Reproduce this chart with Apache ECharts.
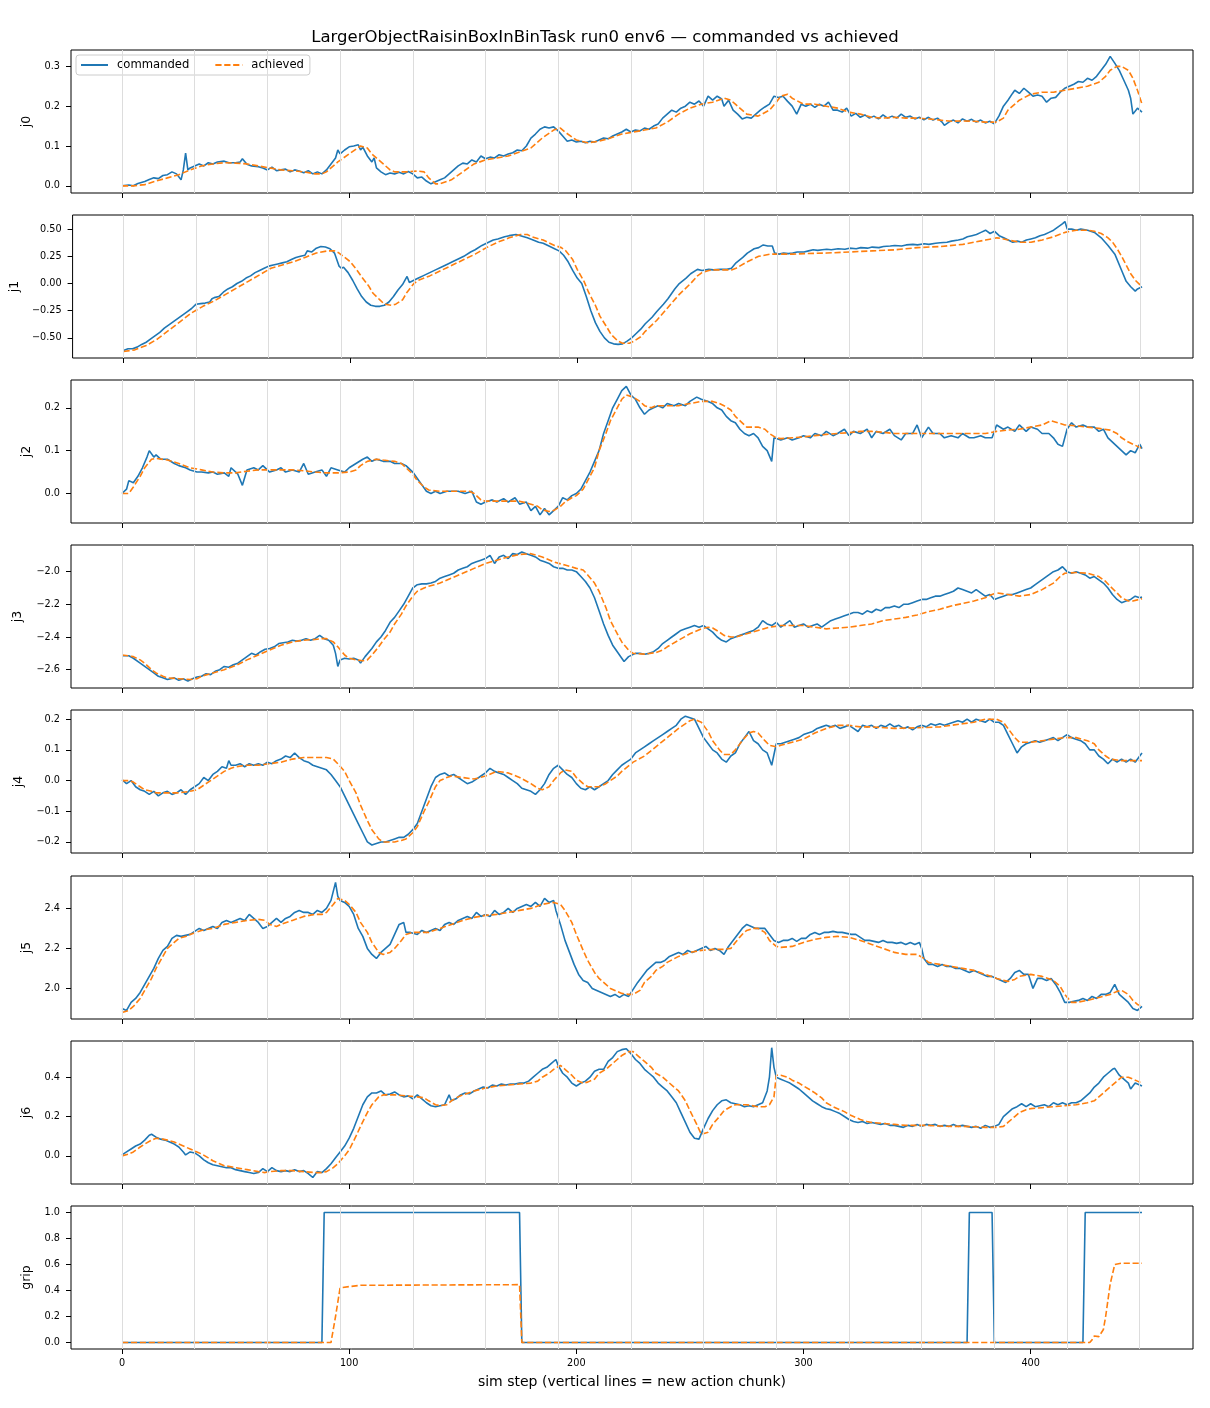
<!DOCTYPE html>
<html><head><meta charset="utf-8">
<script src="https://cdn.jsdelivr.net/npm/echarts@6/dist/echarts.min.js"></script>
<style>html,body{margin:0;padding:0;background:#fff}#c{width:1210px;height:1408px}</style>
</head><body><div id="c"></div><script>
const TITLE = 'LargerObjectRaisinBoxInBinTask run0 env6 \u2014 commanded vs achieved';
const X_LABEL = 'sim step (vertical lines = new action chunk)';
const X_TICKS = [0,100,200,300,400];
const CHUNK_STARTS = [0,32,64,96,128,160,192,224,256,288,320,352,384,416,448];
const PANEL_NAMES = ['j0','j1','j2','j3','j4','j5','j6','grip'];

const J0_TICKS = [0,0.1,0.2,0.3];
const J1_TICKS = [-0.5,-0.25,0,0.25,0.5];
const J2_TICKS = [0,0.1,0.2];
const J3_TICKS = [-2.6,-2.4,-2.2,-2.0];
const J4_TICKS = [-0.2,-0.1,0,0.1,0.2];
const J5_TICKS = [2.0,2.2,2.4];
const J6_TICKS = [0,0.2,0.4];
const GRIP_TICKS = [0,0.2,0.4,0.6,0.8,1.0];

const J0_CMD = [[0,0.0],[3,0.002],[5,0.0],[7,0.006],[10,0.011],[12,0.016],[14,0.02],[16,0.018],[18,0.026],[20,0.028],[22,0.035],[24,0.03],[26,0.015],[27,0.04],[28,0.082],[29,0.04],[30,0.045],[32,0.05],[34,0.055],[36,0.05],[38,0.058],[40,0.055],[42,0.06],[45,0.062],[47,0.058],[50,0.058],[52,0.06],[53,0.068],[55,0.054],[57,0.05],[60,0.048],[62,0.045],[64,0.04],[66,0.047],[68,0.038],[70,0.04],[72,0.042],[74,0.035],[76,0.04],[78,0.037],[80,0.033],[82,0.038],[84,0.03],[86,0.035],[88,0.03],[90,0.04],[92,0.055],[94,0.07],[95,0.09],[96,0.08],[98,0.09],[100,0.098],[102,0.1],[104,0.103],[105,0.09],[106,0.097],[108,0.075],[110,0.06],[111,0.07],[112,0.045],[114,0.035],[116,0.028],[118,0.032],[120,0.03],[122,0.034],[124,0.03],[126,0.036],[128,0.03],[130,0.02],[132,0.022],[134,0.012],[136,0.005],[138,0.01],[140,0.015],[142,0.02],[144,0.03],[146,0.04],[148,0.05],[150,0.057],[152,0.055],[154,0.065],[156,0.06],[158,0.075],[160,0.068],[162,0.072],[164,0.07],[166,0.078],[168,0.075],[170,0.08],[172,0.083],[174,0.09],[176,0.088],[178,0.1],[180,0.12],[182,0.13],[184,0.142],[186,0.148],[188,0.145],[190,0.148],[192,0.138],[194,0.125],[196,0.112],[198,0.115],[200,0.11],[202,0.112],[204,0.108],[206,0.112],[208,0.11],[210,0.115],[212,0.12],[214,0.118],[216,0.125],[218,0.13],[220,0.135],[222,0.142],[224,0.135],[226,0.14],[228,0.138],[230,0.145],[232,0.142],[234,0.15],[236,0.155],[238,0.17],[240,0.18],[242,0.19],[244,0.185],[246,0.195],[248,0.2],[250,0.21],[252,0.205],[254,0.213],[256,0.2],[258,0.225],[260,0.215],[262,0.225],[264,0.218],[265,0.2],[267,0.215],[269,0.19],[271,0.18],[273,0.168],[275,0.172],[277,0.17],[279,0.18],[281,0.19],[283,0.198],[285,0.205],[287,0.225],[289,0.222],[291,0.225],[293,0.212],[295,0.2],[297,0.18],[299,0.205],[301,0.2],[303,0.205],[305,0.197],[307,0.205],[309,0.2],[311,0.21],[313,0.19],[315,0.19],[317,0.185],[319,0.195],[321,0.175],[323,0.182],[325,0.172],[327,0.178],[329,0.17],[331,0.175],[333,0.168],[335,0.178],[337,0.17],[339,0.175],[341,0.17],[343,0.18],[345,0.172],[347,0.175],[349,0.168],[351,0.172],[353,0.166],[355,0.172],[357,0.165],[359,0.17],[361,0.16],[362,0.152],[364,0.16],[366,0.165],[368,0.158],[370,0.168],[372,0.162],[374,0.167],[376,0.16],[378,0.165],[380,0.158],[382,0.162],[384,0.156],[386,0.175],[388,0.2],[390,0.215],[392,0.232],[393,0.24],[395,0.232],[397,0.245],[399,0.235],[401,0.225],[403,0.228],[405,0.225],[407,0.21],[409,0.22],[411,0.222],[413,0.235],[415,0.245],[417,0.25],[419,0.255],[421,0.262],[423,0.26],[425,0.27],[427,0.265],[429,0.275],[431,0.29],[433,0.305],[435,0.325],[437,0.308],[439,0.29],[441,0.265],[443,0.24],[444,0.22],[445,0.18],[447,0.195],[449,0.185]];
const J0_ACH = [[0,0.0],[5,0.0],[10,0.003],[15,0.012],[20,0.02],[25,0.028],[30,0.04],[35,0.05],[40,0.055],[45,0.058],[50,0.057],[55,0.055],[60,0.05],[65,0.045],[70,0.04],[75,0.038],[80,0.035],[85,0.03],[88,0.03],[90,0.035],[95,0.06],[100,0.08],[105,0.1],[108,0.095],[110,0.08],[115,0.055],[118,0.04],[120,0.035],[125,0.035],[130,0.037],[133,0.035],[135,0.02],[138,0.005],[140,0.005],[145,0.015],[150,0.035],[155,0.055],[160,0.065],[165,0.07],[170,0.075],[175,0.085],[180,0.095],[185,0.12],[190,0.14],[193,0.145],[195,0.135],[200,0.115],[205,0.108],[210,0.112],[215,0.12],[220,0.13],[225,0.135],[230,0.14],[235,0.145],[240,0.16],[245,0.18],[250,0.195],[255,0.205],[260,0.21],[265,0.22],[268,0.215],[270,0.205],[275,0.18],[280,0.175],[285,0.19],[288,0.21],[290,0.225],[293,0.23],[295,0.22],[300,0.205],[305,0.205],[310,0.2],[315,0.195],[320,0.185],[325,0.18],[330,0.172],[335,0.17],[340,0.172],[345,0.17],[350,0.17],[355,0.168],[360,0.165],[365,0.162],[370,0.163],[375,0.162],[380,0.16],[385,0.16],[388,0.17],[390,0.19],[395,0.215],[400,0.23],[405,0.235],[410,0.235],[415,0.24],[420,0.245],[425,0.25],[430,0.26],[433,0.275],[435,0.29],[438,0.3],[440,0.3],[443,0.29],[445,0.27],[447,0.24],[449,0.205]];

const J1_CMD = [[0,-0.615],[2,-0.6],[4,-0.6],[6,-0.585],[8,-0.56],[10,-0.54],[12,-0.51],[14,-0.48],[16,-0.45],[18,-0.41],[20,-0.38],[22,-0.35],[24,-0.32],[26,-0.29],[28,-0.26],[30,-0.23],[32,-0.19],[34,-0.185],[36,-0.18],[38,-0.17],[39,-0.14],[40,-0.13],[42,-0.12],[44,-0.08],[46,-0.05],[48,-0.03],[50,0.0],[52,0.02],[54,0.05],[56,0.07],[58,0.1],[60,0.12],[62,0.14],[64,0.16],[66,0.17],[68,0.18],[70,0.19],[72,0.2],[74,0.22],[76,0.24],[78,0.25],[80,0.26],[81,0.3],[83,0.29],[85,0.325],[87,0.34],[89,0.335],[91,0.32],[93,0.28],[95,0.16],[96,0.14],[97,0.15],[99,0.1],[101,0.03],[103,-0.05],[105,-0.12],[107,-0.17],[109,-0.2],[111,-0.21],[113,-0.21],[115,-0.2],[117,-0.17],[119,-0.12],[121,-0.06],[123,-0.01],[125,0.065],[126,0.01],[128,0.03],[130,0.05],[132,0.07],[135,0.1],[138,0.13],[140,0.15],[143,0.18],[145,0.2],[148,0.23],[150,0.25],[153,0.29],[155,0.31],[158,0.35],[160,0.37],[163,0.4],[165,0.41],[168,0.43],[170,0.44],[173,0.45],[175,0.44],[178,0.42],[180,0.405],[183,0.38],[185,0.37],[188,0.34],[190,0.32],[192,0.3],[194,0.26],[196,0.2],[198,0.12],[200,0.05],[202,0.0],[204,-0.12],[206,-0.25],[208,-0.36],[210,-0.44],[212,-0.5],[214,-0.54],[216,-0.555],[218,-0.56],[220,-0.555],[222,-0.53],[224,-0.5],[226,-0.46],[228,-0.42],[230,-0.37],[233,-0.31],[235,-0.26],[238,-0.19],[240,-0.14],[243,-0.05],[245,0.0],[248,0.05],[250,0.09],[253,0.13],[255,0.12],[258,0.13],[260,0.125],[263,0.13],[266,0.13],[268,0.14],[270,0.19],[273,0.24],[275,0.28],[278,0.32],[280,0.33],[282,0.355],[284,0.345],[286,0.345],[287,0.28],[289,0.27],[291,0.28],[293,0.275],[295,0.28],[297,0.29],[300,0.29],[302,0.3],[304,0.31],[306,0.305],[308,0.31],[310,0.315],[312,0.31],[315,0.32],[318,0.315],[320,0.325],[323,0.32],[325,0.33],[328,0.325],[330,0.335],[333,0.33],[335,0.34],[338,0.345],[340,0.35],[343,0.345],[345,0.355],[348,0.36],[350,0.355],[353,0.365],[355,0.36],[358,0.37],[360,0.375],[363,0.38],[365,0.39],[368,0.4],[370,0.41],[372,0.43],[374,0.44],[376,0.45],[378,0.47],[380,0.49],[382,0.46],[384,0.48],[386,0.44],[388,0.42],[390,0.4],[392,0.38],[394,0.39],[396,0.38],[398,0.4],[400,0.41],[402,0.42],[404,0.44],[406,0.45],[408,0.47],[410,0.49],[412,0.52],[414,0.55],[415,0.57],[416,0.5],[418,0.5],[420,0.49],[422,0.5],[425,0.49],[428,0.47],[431,0.42],[434,0.35],[437,0.27],[440,0.12],[442,0.02],[444,-0.03],[446,-0.07],[447,-0.05],[449,-0.03]];
const J1_ACH = [[0,-0.625],[5,-0.61],[10,-0.57],[15,-0.51],[20,-0.43],[25,-0.35],[30,-0.27],[35,-0.21],[40,-0.16],[45,-0.1],[50,-0.04],[55,0.02],[60,0.08],[65,0.14],[70,0.17],[75,0.2],[80,0.24],[85,0.28],[90,0.3],[93,0.3],[95,0.28],[100,0.2],[103,0.12],[105,0.06],[108,-0.02],[110,-0.09],[113,-0.15],[115,-0.19],[118,-0.2],[120,-0.19],[123,-0.15],[125,-0.08],[128,0.0],[130,0.03],[135,0.07],[140,0.12],[145,0.17],[150,0.22],[155,0.27],[160,0.33],[165,0.38],[170,0.42],[175,0.45],[178,0.45],[180,0.43],[185,0.4],[190,0.35],[193,0.33],[195,0.3],[198,0.22],[200,0.13],[203,0.02],[205,-0.08],[208,-0.2],[210,-0.3],[213,-0.4],[215,-0.47],[218,-0.53],[220,-0.55],[223,-0.55],[225,-0.53],[228,-0.49],[230,-0.44],[235,-0.34],[240,-0.22],[245,-0.1],[250,0.0],[253,0.07],[255,0.1],[258,0.12],[260,0.125],[265,0.125],[268,0.125],[270,0.14],[275,0.2],[280,0.25],[285,0.27],[290,0.27],[295,0.27],[300,0.275],[310,0.28],[320,0.29],[330,0.3],[340,0.31],[350,0.33],[360,0.34],[370,0.36],[375,0.38],[380,0.4],[385,0.42],[388,0.41],[390,0.4],[395,0.38],[400,0.38],[405,0.4],[410,0.43],[415,0.47],[420,0.49],[425,0.49],[428,0.48],[431,0.46],[434,0.42],[436,0.38],[438,0.32],[440,0.25],[442,0.17],[444,0.09],[446,0.03],[448,-0.01],[449,-0.02]];

const J2_CMD = [[0,0.0],[2,0.01],[3,0.03],[5,0.025],[7,0.04],[9,0.06],[11,0.085],[12,0.1],[14,0.085],[15,0.09],[17,0.08],[20,0.08],[23,0.07],[25,0.065],[28,0.06],[30,0.055],[33,0.05],[35,0.05],[38,0.048],[40,0.05],[42,0.045],[45,0.048],[47,0.04],[48,0.06],[51,0.045],[53,0.019],[55,0.055],[58,0.06],[60,0.055],[62,0.065],[65,0.05],[68,0.055],[70,0.06],[72,0.05],[75,0.055],[78,0.05],[80,0.07],[82,0.045],[85,0.05],[88,0.055],[90,0.04],[92,0.06],[95,0.055],[98,0.05],[100,0.06],[103,0.07],[106,0.08],[108,0.085],[110,0.075],[112,0.08],[115,0.075],[118,0.075],[120,0.07],[123,0.07],[125,0.065],[128,0.05],[130,0.035],[132,0.02],[134,0.005],[136,0.0],[138,0.005],[140,0.0],[143,0.005],[145,0.005],[148,0.005],[151,0.0],[154,0.005],[156,-0.02],[158,-0.025],[160,-0.02],[163,-0.015],[165,-0.02],[168,-0.012],[170,-0.02],[173,-0.01],[175,-0.025],[178,-0.02],[180,-0.04],[182,-0.03],[184,-0.05],[186,-0.035],[188,-0.05],[190,-0.04],[192,-0.03],[194,-0.01],[196,-0.015],[198,-0.005],[200,0.0],[202,0.01],[204,0.03],[206,0.05],[208,0.075],[210,0.1],[212,0.14],[214,0.17],[216,0.2],[218,0.22],[220,0.24],[222,0.25],[224,0.23],[226,0.22],[228,0.2],[230,0.185],[232,0.195],[234,0.2],[236,0.205],[238,0.2],[240,0.21],[243,0.205],[245,0.21],[248,0.205],[250,0.215],[253,0.225],[255,0.22],[258,0.215],[260,0.21],[262,0.2],[264,0.195],[266,0.18],[268,0.17],[270,0.165],[272,0.15],[274,0.14],[276,0.135],[278,0.14],[280,0.13],[282,0.11],[284,0.1],[286,0.075],[287,0.13],[290,0.125],[293,0.13],[295,0.125],[298,0.13],[300,0.135],[303,0.13],[305,0.14],[308,0.135],[310,0.145],[313,0.135],[315,0.14],[318,0.15],[320,0.135],[322,0.145],[325,0.14],[328,0.15],[330,0.13],[332,0.145],[335,0.14],[338,0.15],[340,0.135],[343,0.125],[345,0.14],[348,0.14],[350,0.16],[352,0.13],[355,0.155],[357,0.14],[360,0.14],[362,0.13],[365,0.135],[368,0.13],[370,0.14],[373,0.13],[375,0.13],[378,0.135],[380,0.13],[383,0.13],[385,0.16],[388,0.15],[390,0.155],[393,0.145],[395,0.16],[398,0.145],[400,0.155],[403,0.15],[405,0.14],[408,0.14],[410,0.13],[412,0.115],[414,0.11],[416,0.15],[418,0.165],[420,0.155],[423,0.16],[425,0.155],[428,0.155],[430,0.145],[432,0.15],[434,0.13],[436,0.12],[438,0.11],[440,0.1],[442,0.09],[444,0.1],[446,0.095],[448,0.115],[449,0.105]];
const J2_ACH = [[0,0.0],[3,0.0],[5,0.015],[8,0.04],[10,0.06],[13,0.08],[15,0.082],[20,0.078],[25,0.07],[30,0.06],[35,0.055],[40,0.05],[45,0.048],[50,0.048],[55,0.052],[60,0.055],[65,0.055],[70,0.055],[75,0.055],[80,0.053],[85,0.05],[90,0.048],[95,0.048],[100,0.05],[103,0.055],[105,0.065],[108,0.075],[112,0.08],[115,0.078],[120,0.075],[123,0.07],[125,0.06],[128,0.045],[130,0.03],[133,0.015],[135,0.008],[140,0.005],[145,0.005],[150,0.005],[153,0.005],[155,0.0],[158,-0.015],[160,-0.018],[165,-0.018],[170,-0.018],[175,-0.018],[180,-0.025],[183,-0.03],[185,-0.038],[188,-0.042],[190,-0.04],[193,-0.03],[195,-0.02],[198,-0.01],[200,-0.005],[203,0.01],[205,0.03],[208,0.06],[210,0.1],[213,0.14],[215,0.17],[218,0.2],[220,0.22],[222,0.23],[225,0.225],[228,0.215],[230,0.205],[233,0.2],[235,0.205],[240,0.205],[245,0.205],[250,0.21],[255,0.215],[260,0.215],[263,0.21],[265,0.205],[268,0.195],[270,0.18],[273,0.165],[275,0.155],[280,0.155],[283,0.15],[285,0.14],[288,0.13],[290,0.128],[295,0.13],[300,0.132],[305,0.135],[310,0.138],[315,0.14],[320,0.142],[325,0.145],[330,0.145],[335,0.143],[340,0.14],[345,0.14],[350,0.14],[360,0.14],[370,0.14],[380,0.14],[385,0.145],[390,0.148],[395,0.15],[400,0.155],[405,0.16],[409,0.17],[412,0.165],[415,0.16],[420,0.158],[425,0.155],[430,0.152],[435,0.148],[438,0.14],[440,0.13],[443,0.12],[445,0.115],[449,0.105]];

const J3_CMD = [[0,-2.515],[3,-2.515],[5,-2.53],[8,-2.56],[10,-2.58],[12,-2.6],[14,-2.62],[16,-2.64],[18,-2.65],[20,-2.66],[23,-2.65],[25,-2.665],[27,-2.655],[29,-2.67],[31,-2.655],[33,-2.645],[35,-2.64],[37,-2.625],[39,-2.63],[41,-2.61],[43,-2.6],[45,-2.58],[47,-2.585],[49,-2.57],[51,-2.56],[53,-2.54],[55,-2.52],[57,-2.5],[59,-2.51],[61,-2.49],[63,-2.475],[65,-2.47],[67,-2.46],[69,-2.44],[71,-2.435],[73,-2.43],[75,-2.42],[77,-2.425],[79,-2.42],[81,-2.41],[83,-2.42],[85,-2.41],[87,-2.39],[89,-2.41],[91,-2.42],[93,-2.45],[94,-2.5],[95,-2.58],[96,-2.54],[98,-2.53],[100,-2.535],[102,-2.53],[104,-2.54],[105,-2.56],[107,-2.52],[110,-2.47],[112,-2.43],[114,-2.4],[116,-2.36],[118,-2.31],[120,-2.28],[122,-2.24],[124,-2.2],[126,-2.15],[128,-2.1],[130,-2.08],[132,-2.075],[134,-2.075],[136,-2.07],[138,-2.06],[140,-2.04],[142,-2.03],[144,-2.02],[146,-2.01],[148,-1.99],[150,-1.98],[152,-1.97],[154,-1.95],[156,-1.94],[158,-1.93],[160,-1.92],[162,-1.9],[164,-1.95],[166,-1.91],[168,-1.9],[170,-1.92],[172,-1.89],[174,-1.895],[176,-1.88],[178,-1.89],[180,-1.9],[182,-1.91],[184,-1.93],[186,-1.94],[188,-1.95],[190,-1.97],[192,-1.98],[194,-1.98],[196,-1.99],[198,-1.99],[200,-2.0],[202,-2.03],[204,-2.06],[206,-2.1],[208,-2.16],[210,-2.24],[212,-2.32],[214,-2.39],[216,-2.45],[218,-2.49],[220,-2.53],[221,-2.55],[223,-2.52],[226,-2.5],[228,-2.5],[230,-2.505],[232,-2.5],[234,-2.49],[236,-2.47],[238,-2.44],[240,-2.42],[242,-2.4],[244,-2.38],[246,-2.36],[248,-2.35],[250,-2.34],[252,-2.33],[254,-2.34],[256,-2.33],[258,-2.35],[260,-2.37],[262,-2.4],[264,-2.42],[266,-2.43],[268,-2.41],[270,-2.4],[272,-2.39],[274,-2.38],[276,-2.37],[278,-2.36],[280,-2.34],[282,-2.3],[284,-2.32],[286,-2.33],[288,-2.31],[290,-2.34],[292,-2.32],[294,-2.3],[296,-2.34],[298,-2.33],[300,-2.32],[302,-2.34],[304,-2.33],[306,-2.32],[308,-2.34],[310,-2.32],[312,-2.3],[314,-2.29],[316,-2.28],[318,-2.27],[320,-2.26],[322,-2.25],[324,-2.25],[326,-2.26],[328,-2.24],[330,-2.25],[332,-2.23],[334,-2.24],[336,-2.22],[338,-2.22],[340,-2.21],[342,-2.22],[344,-2.2],[346,-2.2],[348,-2.19],[350,-2.18],[352,-2.17],[354,-2.17],[356,-2.16],[358,-2.15],[360,-2.15],[362,-2.14],[364,-2.13],[366,-2.12],[368,-2.1],[370,-2.11],[372,-2.12],[374,-2.13],[376,-2.11],[378,-2.13],[380,-2.15],[382,-2.14],[384,-2.17],[386,-2.16],[388,-2.15],[390,-2.14],[392,-2.14],[394,-2.13],[396,-2.12],[398,-2.11],[400,-2.1],[402,-2.08],[404,-2.06],[406,-2.04],[408,-2.02],[410,-2.0],[412,-1.99],[414,-1.97],[416,-2.0],[418,-2.01],[420,-2.0],[422,-2.01],[424,-2.02],[426,-2.04],[428,-2.03],[430,-2.05],[432,-2.07],[434,-2.1],[436,-2.14],[438,-2.17],[440,-2.19],[442,-2.18],[444,-2.17],[446,-2.15],[448,-2.16],[449,-2.155]];
const J3_ACH = [[0,-2.51],[3,-2.515],[5,-2.52],[8,-2.54],[10,-2.56],[13,-2.6],[15,-2.62],[18,-2.64],[20,-2.65],[25,-2.655],[30,-2.66],[33,-2.655],[35,-2.64],[40,-2.62],[45,-2.6],[50,-2.575],[55,-2.54],[60,-2.51],[65,-2.48],[70,-2.45],[75,-2.43],[80,-2.42],[85,-2.415],[88,-2.41],[90,-2.41],[93,-2.43],[95,-2.46],[98,-2.51],[100,-2.53],[103,-2.54],[106,-2.545],[108,-2.54],[110,-2.51],[113,-2.46],[115,-2.42],[118,-2.37],[120,-2.32],[123,-2.26],[125,-2.21],[128,-2.15],[130,-2.12],[133,-2.1],[135,-2.09],[140,-2.07],[145,-2.04],[150,-2.01],[155,-1.98],[160,-1.95],[165,-1.93],[170,-1.91],[175,-1.895],[180,-1.89],[185,-1.91],[190,-1.94],[195,-1.96],[200,-1.98],[203,-1.99],[205,-2.02],[208,-2.07],[210,-2.12],[213,-2.22],[215,-2.3],[218,-2.38],[220,-2.43],[223,-2.48],[225,-2.5],[230,-2.505],[235,-2.495],[238,-2.48],[240,-2.46],[245,-2.42],[250,-2.38],[255,-2.35],[258,-2.34],[260,-2.345],[263,-2.37],[265,-2.39],[268,-2.4],[270,-2.4],[275,-2.38],[280,-2.36],[285,-2.34],[290,-2.33],[295,-2.33],[300,-2.33],[305,-2.34],[310,-2.35],[315,-2.345],[320,-2.34],[325,-2.33],[330,-2.32],[335,-2.3],[340,-2.29],[345,-2.28],[350,-2.265],[355,-2.245],[360,-2.23],[365,-2.21],[370,-2.195],[375,-2.18],[380,-2.16],[383,-2.14],[385,-2.13],[390,-2.14],[395,-2.15],[400,-2.14],[405,-2.11],[410,-2.07],[413,-2.03],[415,-2.01],[420,-2.005],[425,-2.01],[430,-2.03],[433,-2.06],[435,-2.09],[438,-2.13],[440,-2.16],[443,-2.18],[445,-2.18],[449,-2.165]];

const J4_CMD = [[0,0.003],[2,-0.01],[4,0.0],[6,-0.02],[8,-0.03],[10,-0.035],[12,-0.045],[14,-0.035],[16,-0.05],[18,-0.04],[20,-0.035],[22,-0.045],[24,-0.04],[26,-0.03],[28,-0.045],[30,-0.03],[32,-0.02],[34,-0.01],[36,0.01],[38,0.0],[40,0.02],[42,0.03],[44,0.045],[46,0.04],[47,0.065],[48,0.05],[50,0.05],[52,0.055],[54,0.045],[56,0.055],[58,0.05],[60,0.055],[62,0.05],[64,0.06],[66,0.055],[68,0.065],[70,0.07],[72,0.08],[74,0.075],[76,0.09],[78,0.075],[80,0.065],[82,0.06],[84,0.05],[86,0.045],[88,0.04],[90,0.035],[92,0.02],[94,0.0],[96,-0.02],[98,-0.05],[100,-0.08],[102,-0.11],[104,-0.14],[106,-0.17],[108,-0.2],[110,-0.21],[112,-0.205],[114,-0.2],[116,-0.2],[118,-0.195],[120,-0.19],[122,-0.185],[124,-0.185],[126,-0.175],[128,-0.16],[130,-0.14],[132,-0.1],[134,-0.06],[136,-0.02],[138,0.01],[140,0.02],[142,0.025],[144,0.015],[146,0.02],[148,0.01],[150,0.0],[152,-0.01],[154,-0.005],[156,0.005],[158,0.015],[160,0.025],[162,0.04],[164,0.03],[166,0.025],[168,0.02],[170,0.01],[172,0.0],[174,-0.01],[176,-0.025],[178,-0.03],[180,-0.035],[182,-0.045],[184,-0.03],[186,-0.01],[188,0.02],[190,0.04],[192,0.05],[194,0.035],[196,0.02],[198,0.01],[200,-0.01],[202,-0.025],[204,-0.03],[206,-0.02],[208,-0.03],[210,-0.02],[212,-0.01],[214,0.0],[216,0.02],[218,0.035],[220,0.05],[222,0.06],[224,0.07],[226,0.09],[228,0.1],[230,0.11],[232,0.12],[234,0.13],[236,0.14],[238,0.15],[240,0.16],[242,0.17],[244,0.18],[246,0.2],[248,0.21],[250,0.205],[252,0.2],[254,0.17],[256,0.14],[258,0.12],[260,0.1],[262,0.09],[264,0.07],[266,0.06],[268,0.08],[270,0.09],[272,0.12],[274,0.14],[276,0.16],[278,0.13],[280,0.12],[282,0.1],[284,0.09],[286,0.05],[288,0.12],[290,0.12],[292,0.125],[294,0.13],[296,0.135],[298,0.14],[300,0.15],[302,0.155],[304,0.16],[306,0.17],[308,0.175],[310,0.18],[312,0.175],[314,0.18],[316,0.17],[318,0.175],[320,0.18],[322,0.17],[324,0.16],[326,0.18],[328,0.175],[330,0.18],[332,0.17],[334,0.18],[336,0.175],[338,0.185],[340,0.175],[342,0.18],[344,0.17],[346,0.175],[348,0.165],[350,0.175],[352,0.18],[354,0.175],[356,0.185],[358,0.18],[360,0.185],[362,0.18],[364,0.185],[366,0.19],[368,0.195],[370,0.19],[372,0.2],[374,0.19],[376,0.2],[378,0.195],[380,0.19],[382,0.2],[384,0.19],[386,0.19],[388,0.18],[390,0.15],[392,0.12],[394,0.09],[396,0.11],[398,0.12],[400,0.125],[402,0.13],[404,0.125],[406,0.13],[408,0.135],[410,0.14],[412,0.13],[414,0.14],[416,0.15],[418,0.14],[420,0.135],[422,0.13],[424,0.12],[426,0.1],[428,0.1],[430,0.08],[432,0.07],[434,0.055],[436,0.07],[438,0.06],[440,0.07],[442,0.06],[444,0.07],[446,0.06],[448,0.08],[449,0.09]];
const J4_ACH = [[0,0.0],[3,0.0],[5,-0.005],[8,-0.02],[10,-0.03],[13,-0.035],[15,-0.04],[20,-0.04],[25,-0.04],[30,-0.035],[33,-0.03],[35,-0.02],[38,-0.005],[40,0.005],[43,0.02],[45,0.03],[48,0.04],[50,0.045],[55,0.05],[60,0.05],[65,0.055],[70,0.06],[75,0.07],[80,0.075],[85,0.075],[90,0.075],[93,0.07],[95,0.055],[98,0.03],[100,0.0],[103,-0.04],[105,-0.08],[108,-0.13],[110,-0.16],[113,-0.19],[115,-0.2],[118,-0.2],[120,-0.2],[123,-0.195],[125,-0.19],[128,-0.17],[130,-0.15],[133,-0.1],[135,-0.07],[138,-0.02],[140,0.0],[143,0.01],[145,0.015],[150,0.01],[155,0.005],[160,0.015],[165,0.03],[170,0.025],[175,0.01],[180,-0.01],[183,-0.025],[185,-0.03],[188,-0.02],[190,0.0],[193,0.025],[195,0.035],[198,0.03],[200,0.01],[203,-0.01],[205,-0.02],[208,-0.02],[210,-0.02],[213,-0.01],[215,0.0],[218,0.015],[220,0.03],[225,0.06],[230,0.08],[235,0.11],[240,0.14],[245,0.17],[250,0.195],[252,0.2],[255,0.19],[258,0.16],[260,0.13],[263,0.1],[265,0.085],[268,0.085],[270,0.1],[273,0.13],[276,0.155],[278,0.16],[280,0.155],[283,0.13],[285,0.115],[288,0.11],[290,0.115],[295,0.125],[300,0.135],[305,0.155],[310,0.17],[315,0.18],[320,0.18],[325,0.175],[330,0.175],[340,0.17],[350,0.172],[360,0.175],[365,0.18],[370,0.185],[375,0.19],[380,0.2],[385,0.2],[388,0.19],[390,0.17],[393,0.14],[395,0.125],[400,0.125],[405,0.13],[410,0.135],[415,0.14],[420,0.14],[425,0.13],[428,0.12],[430,0.1],[433,0.08],[435,0.07],[440,0.065],[445,0.065],[449,0.065]];

const J5_CMD = [[0,1.9],[2,1.89],[4,1.93],[6,1.95],[8,1.98],[10,2.02],[12,2.06],[14,2.1],[16,2.15],[18,2.19],[20,2.21],[22,2.25],[24,2.265],[26,2.26],[28,2.265],[30,2.27],[32,2.285],[34,2.3],[36,2.29],[38,2.3],[40,2.31],[42,2.3],[44,2.33],[46,2.34],[48,2.33],[50,2.34],[52,2.35],[54,2.34],[56,2.37],[58,2.35],[60,2.33],[62,2.3],[64,2.31],[66,2.33],[68,2.35],[70,2.33],[72,2.35],[74,2.36],[76,2.38],[78,2.39],[80,2.38],[82,2.38],[84,2.37],[86,2.39],[88,2.38],[90,2.4],[92,2.44],[94,2.53],[95,2.46],[96,2.44],[98,2.43],[100,2.41],[102,2.37],[104,2.3],[106,2.26],[108,2.2],[110,2.17],[112,2.15],[114,2.18],[116,2.2],[118,2.22],[120,2.27],[122,2.32],[124,2.33],[125,2.28],[127,2.28],[130,2.27],[132,2.29],[134,2.28],[136,2.29],[138,2.3],[140,2.29],[142,2.32],[144,2.33],[146,2.32],[148,2.34],[150,2.35],[152,2.36],[154,2.35],[156,2.38],[158,2.36],[160,2.37],[162,2.36],[164,2.39],[166,2.37],[168,2.38],[170,2.4],[172,2.38],[174,2.4],[176,2.41],[178,2.42],[180,2.41],[182,2.43],[184,2.41],[186,2.45],[188,2.43],[190,2.44],[191,2.39],[193,2.32],[195,2.24],[197,2.18],[199,2.12],[201,2.07],[203,2.04],[205,2.03],[207,2.0],[209,1.99],[211,1.98],[213,1.97],[215,1.96],[217,1.97],[219,1.955],[221,1.97],[223,1.96],[225,1.995],[227,2.03],[229,2.06],[231,2.09],[233,2.11],[235,2.13],[237,2.13],[239,2.14],[241,2.16],[243,2.17],[245,2.18],[247,2.17],[249,2.19],[251,2.18],[253,2.19],[255,2.2],[257,2.21],[259,2.19],[261,2.2],[263,2.19],[265,2.17],[267,2.21],[269,2.24],[271,2.27],[273,2.3],[275,2.32],[277,2.31],[279,2.3],[281,2.3],[283,2.3],[285,2.27],[287,2.24],[289,2.23],[291,2.24],[293,2.24],[295,2.25],[297,2.235],[299,2.25],[301,2.25],[303,2.27],[305,2.28],[307,2.27],[309,2.28],[311,2.28],[313,2.285],[315,2.28],[317,2.28],[319,2.275],[321,2.27],[323,2.27],[325,2.255],[327,2.24],[329,2.24],[331,2.235],[333,2.23],[335,2.24],[337,2.23],[339,2.23],[341,2.225],[343,2.23],[345,2.22],[347,2.23],[349,2.22],[351,2.23],[352,2.2],[353,2.15],[355,2.12],[357,2.12],[359,2.11],[361,2.12],[363,2.11],[365,2.11],[367,2.1],[369,2.1],[371,2.09],[373,2.08],[375,2.09],[377,2.08],[379,2.07],[381,2.06],[383,2.06],[385,2.05],[387,2.04],[389,2.03],[391,2.05],[393,2.08],[395,2.09],[397,2.07],[399,2.07],[401,2.0],[403,2.05],[405,2.05],[407,2.04],[409,2.05],[411,2.02],[413,1.98],[415,1.93],[417,1.93],[419,1.935],[421,1.94],[423,1.95],[425,1.94],[427,1.96],[429,1.95],[431,1.97],[433,1.97],[435,1.98],[437,2.02],[439,1.97],[441,1.95],[443,1.93],[445,1.9],[447,1.89],[449,1.91]];
const J5_ACH = [[0,1.88],[3,1.89],[5,1.91],[8,1.95],[10,1.99],[13,2.05],[15,2.1],[18,2.16],[20,2.2],[23,2.23],[25,2.25],[28,2.26],[30,2.27],[35,2.29],[40,2.3],[45,2.32],[50,2.33],[55,2.34],[60,2.345],[63,2.34],[65,2.32],[68,2.31],[70,2.32],[75,2.34],[80,2.36],[85,2.37],[88,2.37],[90,2.38],[93,2.42],[95,2.45],[98,2.44],[100,2.42],[103,2.38],[105,2.33],[108,2.28],[110,2.23],[113,2.18],[115,2.17],[118,2.18],[120,2.2],[123,2.24],[125,2.27],[128,2.28],[130,2.28],[135,2.28],[140,2.3],[145,2.32],[150,2.34],[155,2.355],[160,2.365],[165,2.37],[170,2.38],[175,2.39],[180,2.4],[185,2.42],[190,2.43],[193,2.42],[195,2.39],[198,2.33],[200,2.27],[203,2.19],[205,2.14],[208,2.08],[210,2.05],[213,2.02],[215,2.0],[218,1.985],[220,1.975],[223,1.97],[225,1.97],[228,1.99],[230,2.03],[233,2.06],[235,2.09],[238,2.11],[240,2.13],[245,2.16],[250,2.18],[255,2.19],[260,2.195],[265,2.195],[268,2.2],[270,2.23],[273,2.27],[275,2.29],[278,2.3],[280,2.3],[283,2.28],[285,2.24],[288,2.21],[290,2.205],[295,2.21],[300,2.23],[305,2.245],[310,2.255],[315,2.26],[320,2.255],[325,2.24],[330,2.22],[335,2.2],[340,2.18],[345,2.17],[350,2.17],[353,2.15],[355,2.13],[360,2.12],[365,2.11],[370,2.1],[375,2.09],[380,2.07],[385,2.05],[388,2.04],[390,2.035],[393,2.045],[395,2.06],[400,2.07],[405,2.06],[410,2.04],[413,2.01],[415,1.97],[418,1.93],[420,1.93],[425,1.94],[430,1.955],[435,1.97],[438,1.985],[440,1.99],[443,1.97],[445,1.94],[447,1.92],[449,1.91]];

const J6_CMD = [[0,0.005],[2,0.02],[4,0.035],[6,0.05],[8,0.06],[10,0.08],[12,0.105],[13,0.11],[15,0.095],[17,0.085],[19,0.08],[21,0.07],[23,0.06],[25,0.045],[27,0.02],[28,0.005],[30,0.02],[32,0.015],[34,0.0],[36,-0.02],[38,-0.035],[40,-0.045],[42,-0.05],[44,-0.055],[46,-0.06],[48,-0.06],[50,-0.07],[52,-0.075],[54,-0.08],[56,-0.085],[58,-0.09],[60,-0.085],[62,-0.065],[64,-0.08],[66,-0.06],[68,-0.075],[70,-0.08],[72,-0.075],[74,-0.08],[76,-0.07],[78,-0.08],[80,-0.075],[82,-0.09],[84,-0.11],[86,-0.08],[88,-0.085],[90,-0.065],[92,-0.04],[94,-0.01],[96,0.02],[98,0.05],[100,0.09],[102,0.14],[104,0.2],[106,0.26],[108,0.3],[110,0.32],[112,0.32],[114,0.33],[116,0.31],[118,0.315],[120,0.325],[122,0.31],[124,0.3],[126,0.305],[128,0.29],[130,0.31],[132,0.29],[134,0.27],[136,0.255],[138,0.25],[140,0.255],[142,0.26],[144,0.31],[145,0.28],[147,0.29],[149,0.31],[151,0.32],[153,0.315],[155,0.33],[157,0.34],[159,0.35],[161,0.345],[163,0.36],[165,0.355],[167,0.365],[169,0.36],[171,0.365],[173,0.365],[175,0.37],[177,0.37],[179,0.38],[181,0.4],[183,0.42],[185,0.44],[187,0.45],[189,0.47],[191,0.49],[192,0.46],[194,0.42],[196,0.4],[198,0.37],[200,0.355],[202,0.37],[204,0.38],[206,0.4],[208,0.43],[210,0.44],[212,0.44],[214,0.48],[216,0.5],[218,0.53],[220,0.54],[222,0.545],[224,0.52],[226,0.49],[228,0.47],[230,0.44],[232,0.42],[234,0.4],[236,0.37],[238,0.35],[240,0.33],[242,0.3],[244,0.27],[246,0.22],[248,0.17],[250,0.12],[252,0.09],[254,0.085],[256,0.14],[258,0.19],[260,0.23],[262,0.26],[264,0.28],[266,0.285],[268,0.27],[270,0.265],[272,0.26],[274,0.25],[276,0.255],[278,0.25],[280,0.26],[282,0.27],[284,0.33],[285,0.4],[286,0.55],[287,0.45],[288,0.4],[290,0.39],[292,0.38],[294,0.37],[296,0.355],[298,0.34],[300,0.32],[302,0.3],[304,0.28],[306,0.265],[308,0.25],[310,0.24],[312,0.235],[314,0.225],[316,0.215],[318,0.2],[320,0.185],[322,0.175],[324,0.17],[326,0.175],[328,0.165],[330,0.17],[332,0.165],[334,0.16],[336,0.165],[338,0.155],[340,0.155],[342,0.15],[344,0.145],[346,0.155],[348,0.15],[350,0.16],[352,0.15],[354,0.16],[356,0.155],[358,0.16],[360,0.15],[362,0.155],[364,0.15],[366,0.16],[368,0.15],[370,0.155],[372,0.15],[374,0.145],[376,0.15],[378,0.14],[380,0.155],[382,0.145],[384,0.15],[386,0.16],[388,0.2],[390,0.22],[392,0.24],[394,0.25],[396,0.265],[398,0.25],[400,0.265],[402,0.25],[404,0.255],[406,0.26],[408,0.25],[410,0.27],[412,0.26],[414,0.27],[416,0.26],[418,0.27],[420,0.27],[422,0.28],[424,0.3],[426,0.32],[428,0.35],[430,0.37],[432,0.4],[434,0.42],[436,0.44],[437,0.445],[439,0.41],[441,0.39],[443,0.37],[444,0.34],[446,0.37],[448,0.36],[449,0.355]];
const J6_ACH = [[0,0.0],[3,0.01],[5,0.02],[8,0.045],[10,0.06],[13,0.08],[15,0.09],[18,0.085],[20,0.08],[23,0.07],[25,0.06],[28,0.045],[30,0.035],[33,0.02],[35,0.01],[38,-0.01],[40,-0.025],[43,-0.04],[45,-0.05],[48,-0.055],[50,-0.06],[55,-0.07],[60,-0.08],[63,-0.085],[65,-0.08],[70,-0.075],[75,-0.075],[80,-0.08],[85,-0.085],[88,-0.085],[90,-0.08],[93,-0.06],[95,-0.04],[98,0.0],[100,0.03],[103,0.1],[105,0.15],[108,0.22],[110,0.26],[113,0.3],[115,0.31],[118,0.31],[120,0.31],[125,0.305],[130,0.3],[133,0.295],[135,0.28],[138,0.26],[140,0.255],[143,0.26],[145,0.28],[148,0.3],[150,0.31],[155,0.33],[160,0.345],[165,0.355],[170,0.36],[175,0.365],[180,0.37],[183,0.38],[185,0.4],[188,0.42],[190,0.44],[193,0.46],[195,0.44],[198,0.41],[200,0.385],[203,0.37],[205,0.375],[208,0.39],[210,0.42],[213,0.44],[215,0.46],[218,0.49],[220,0.51],[223,0.53],[225,0.53],[228,0.5],[230,0.48],[233,0.45],[235,0.42],[238,0.4],[240,0.38],[243,0.35],[245,0.33],[248,0.28],[250,0.23],[253,0.16],[255,0.11],[258,0.12],[260,0.16],[263,0.2],[265,0.23],[268,0.25],[270,0.26],[275,0.26],[280,0.25],[283,0.25],[285,0.26],[287,0.3],[288,0.41],[290,0.41],[293,0.4],[295,0.385],[298,0.37],[300,0.355],[303,0.335],[305,0.32],[308,0.295],[310,0.27],[313,0.25],[315,0.24],[318,0.225],[320,0.21],[323,0.195],[325,0.185],[328,0.175],[330,0.17],[335,0.165],[340,0.16],[345,0.155],[350,0.155],[355,0.155],[360,0.152],[365,0.15],[370,0.15],[375,0.148],[380,0.145],[385,0.145],[388,0.15],[390,0.17],[393,0.2],[395,0.22],[398,0.235],[400,0.24],[405,0.245],[410,0.25],[415,0.255],[420,0.26],[425,0.27],[428,0.28],[430,0.3],[433,0.33],[435,0.35],[438,0.38],[440,0.4],[443,0.4],[445,0.39],[447,0.38],[449,0.37]];

const GRIP_CMD = [[0,0],[88,0],[89,1],[175,1],[176,0],[372,0],[373,1],[383,1],[384,0],[423,0],[424,1],[449,1]];
const GRIP_ACH = [[0,0],[92,0],[94,0.2],[96,0.42],[100,0.43],[105,0.44],[175,0.445],[176,0],[426,0],[427,0.02],[428,0.05],[430,0.045],[432,0.1],[433,0.2],[435,0.45],[437,0.6],[440,0.61],[449,0.61]];

const CMD_SERIES = [J0_CMD,J1_CMD,J2_CMD,J3_CMD,J4_CMD,J5_CMD,J6_CMD,GRIP_CMD];
const ACH_SERIES = [J0_ACH,J1_ACH,J2_ACH,J3_ACH,J4_ACH,J5_ACH,J6_ACH,GRIP_ACH];
const TICK_SETS = [J0_TICKS,J1_TICKS,J2_TICKS,J3_TICKS,J4_TICKS,J5_TICKS,J6_TICKS,GRIP_TICKS];

// layout / axis-limit configuration (styling, not data)
const GRID_TOPS = [50,215,380,545,710,876,1041,1206];
const GRID_H = 143;
const Y_LIMITS = [[-0.018,0.341],[-0.685,0.63],[-0.069,0.265],[-2.712,-1.837],[-0.236,0.23],[1.847,2.562],[-0.143,0.584],[-0.05,1.05]];
const Y_DEC = [1,2,1,1,1,1,1,1];
const Y_NAMEGAP = [35,51,35,47,45,35,35,35];
const X_LIMITS = [-22.45,471.45];

const FONT = 'DejaVu Sans';
const BLUE = '#1f77b4', ORANGE = '#ff7f0e';

const grids = [], xAxes = [], yAxes = [], series = [];
PANEL_NAMES.forEach((name, i) => {
  const last = i === PANEL_NAMES.length - 1;
  grids.push({left:71, right:17, top:GRID_TOPS[i], height:GRID_H, show:true, borderColor:'#000', borderWidth:1, backgroundColor:'transparent'});
  xAxes.push({
    type:'value', gridIndex:i, min:X_LIMITS[0], max:X_LIMITS[1], position:'bottom',
    axisLine:{show:false, onZero:false},
    axisTick:{show:true, length:5, customValues:X_TICKS, lineStyle:{color:'#000', width:1}},
    axisLabel:{show:last, customValues:X_TICKS, margin:9, fontSize:9.7, color:'#000', fontFamily:FONT},
    splitLine:{show:false},
    name: last ? X_LABEL : '', nameLocation:'middle', nameGap:26,
    nameTextStyle:{fontSize:14, color:'#000', fontFamily:FONT}
  });
  const dec = Y_DEC[i];
  yAxes.push({
    type:'value', gridIndex:i, min:Y_LIMITS[i][0], max:Y_LIMITS[i][1], position:'left',
    axisLine:{show:false, onZero:false},
    axisTick:{show:true, length:5, customValues:TICK_SETS[i], lineStyle:{color:'#000', width:1}},
    axisLabel:{show:true, customValues:TICK_SETS[i], margin:11, fontSize:9.7, color:'#000', fontFamily:FONT,
      formatter: v => Number(v).toFixed(dec).replace('-', '\u2212')},
    splitLine:{show:false},
    name:name, nameLocation:'middle', nameGap:Y_NAMEGAP[i], nameRotate:90,
    nameTextStyle:{fontSize:12.5, color:'#000', fontFamily:FONT}
  });
  series.push({
    name:'chunks', type:'line', xAxisIndex:i, yAxisIndex:i, data:[], z:1, silent:true,
    markLine:{silent:true, symbol:['none','none'], animation:false, label:{show:false},
      lineStyle:{color:'#dddddd', width:1, type:'solid'},
      emphasis:{disabled:true},
      data: CHUNK_STARTS.map(v => ({xAxis:v}))}
  });
  series.push({
    name:'commanded', type:'line', xAxisIndex:i, yAxisIndex:i, data:CMD_SERIES[i], z:3,
    symbol:'none', showSymbol:false, lineStyle:{color:BLUE, width:1.6}, itemStyle:{color:BLUE},
    emphasis:{disabled:true}, animation:false
  });
  series.push({
    name:'achieved', type:'line', xAxisIndex:i, yAxisIndex:i, data:ACH_SERIES[i], z:4,
    symbol:'none', showSymbol:false, lineStyle:{color:ORANGE, width:1.6, type:[6.2,2.7]}, itemStyle:{color:ORANGE},
    emphasis:{disabled:true}, animation:false
  });
});

const option = {
  backgroundColor:'#fff',
  animation:false,
  textStyle:{fontFamily:FONT},
  title:{text:TITLE, left:'center', top:24, textStyle:{fontSize:16.5, fontWeight:'normal', color:'#000', fontFamily:FONT}},
  legend:{
    data:['commanded','achieved'], left:76, top:55, orient:'horizontal',
    itemWidth:27, itemHeight:12, itemGap:25, padding:[4,6,4,4],
    borderColor:'#cccccc', borderWidth:1, borderRadius:3, backgroundColor:'rgba(255,255,255,0.8)',
    itemStyle:{opacity:0},
    textStyle:{fontSize:11.6, color:'#000', fontFamily:FONT, padding:[0,0,0,4]},
    selectedMode:false
  },
  grid:grids, xAxis:xAxes, yAxis:yAxes, series:series
};
const chart = echarts.init(document.getElementById('c'), null, {renderer:'canvas'});
chart.setOption(option);
</script></body></html>
